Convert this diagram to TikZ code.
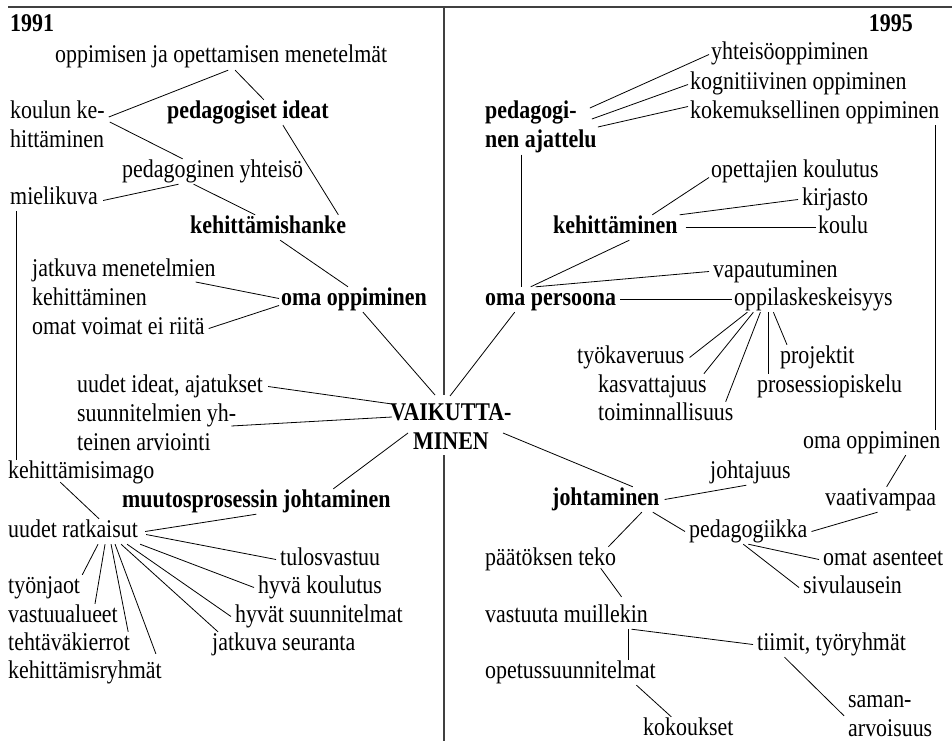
\documentclass[tikz,border=0pt]{standalone}
\usepackage{fontspec}
\setmainfont{Liberation Serif}[FakeStretch=0.86]
\usepackage{tikz}
\usetikzlibrary{positioning,calc}

\begin{document}
\begin{tikzpicture}[x=1pt, y=-1pt,
    item/.style={font=\fontsize{25.5}{28.7}\selectfont, inner sep=2pt,
                 text height=16pt, text depth=5pt, anchor=base west},
    topic/.style={item, font=\fontsize{25.5}{28.7}\selectfont\bfseries},
    twoline/.style={font=\fontsize{25.5}{28.7}\selectfont, inner sep=2pt, align=left, anchor=base west},
    topictwo/.style={twoline, font=\fontsize{25.5}{28.7}\selectfont\bfseries},
    year/.style={topic},
    link/.style={line width=0.8pt},
    rule/.style={line width=1.2pt, draw=black!75}
]
\useasboundingbox (0,0) rectangle (952,741);

% ------------------------------------------------------------
% frame
% ------------------------------------------------------------
\coordinate (tl) at (8,7);
\coordinate (tr) at (952,7);
\coordinate (dt) at (444,7);
\coordinate (db) at (444,741);

% ------------------------------------------------------------
% 1991
% ------------------------------------------------------------
\node[year] (y91) at (8,32) {1991};

\node[item] (opp) at (53,63) {oppimisen ja opettamisen menetelmät};
\node[twoline] (kk) at (8,147) {koulun ke-\\hittäminen};
\node[topic] (pi) at (165,118) {pedagogiset ideat};
\node[item] (py) at (120,177) {pedagoginen yhteisö};
\node[item] (mk) at (8,204) {mielikuva};
\node[topic] (kh) at (188,233) {kehittämishanke};

\node[twoline] (jm) at (30,305) {jatkuva menetelmien\\kehittäminen};
\node[item] (ov) at (30,334) {omat voimat ei riitä};
\node[topic] (oo) at (279,305) {oma oppiminen};

\node[item] (uia) at (75,392) {uudet ideat, ajatukset};
\node[twoline] (sy) at (75,450) {suunnitelmien yh-\\teinen arviointi};
\node[topictwo, align=center, anchor=base] (vk) at (451,449) {VAIKUTTA-\\MINEN};

\node[item] (ki) at (6,478) {kehittämisimago};
\node[topic] (mj) at (120,507) {muutosprosessin johtaminen};
\node[item] (ur) at (6,537) {uudet ratkaisut};
\node[item] (tu) at (278,565) {tulosvastuu};
\node[item] (hk) at (256,593) {hyvä koulutus};
\node[item] (tj) at (6,593) {työnjaot};
\node[item] (va) at (6,622) {vastuualueet};
\node[item] (hs) at (233,622) {hyvät suunnitelmat};
\node[item] (tk) at (6,650) {tehtäväkierrot};
\node[item] (js) at (210,650) {jatkuva seuranta};
\node[item] (kr) at (6,678) {kehittämisryhmät};

\draw[link] ([xshift=7pt]opp.south) -- ([xshift=2pt,yshift=30pt]kk.base east);
\draw[link] ([xshift=14pt]opp.south) -- ([xshift=16pt]pi.north);
\draw[link] ([xshift=3pt,yshift=25pt]kk.base east) -- ([xshift=-30pt]py.north);
\draw[link] ([xshift=3pt,yshift=-2pt]mk.east) -- ([xshift=-34pt]py.south);
\draw[link] ([xshift=-19pt]py.south) -- ([xshift=-13pt]kh.north);
\draw[link] ([xshift=35pt]pi.south) -- ([xshift=-10pt]kh.north east);
\draw[link] ([xshift=8pt]mk.south west) -- ([xshift=10pt]ki.north west);
\draw[link] ([xshift=12pt]kh.south) -- ([xshift=-6pt]oo.north);
\draw[link] ([xshift=-22pt,yshift=23pt]jm.base east) -- ([yshift=1pt]oo.west);
\draw[link] ([xshift=2pt]ov.east) -- ([yshift=-6pt]oo.west);
\draw[link] ([xshift=9pt]oo.south) -- ([xshift=-16pt,yshift=54pt]vk.base);
\draw[link] ([xshift=3pt]uia.east) -- ([xshift=-59pt,yshift=45pt]vk.base);
\draw[link] ([xshift=-7pt,yshift=24pt]sy.base east) -- ([xshift=-59pt,yshift=32pt]vk.base);
\draw[link] ([xshift=-43pt,yshift=16pt]vk.base) -- ([xshift=77pt]mj.north);

%uudet ratkaisut
\draw[link] ([xshift=-21pt,yshift=3pt]ki.south) -- ([xshift=26pt]ur.north);
\draw[link] ([xshift=5pt]ur.east) -- (mj.south);
\draw[link] ([xshift=6pt,yshift=-3pt]ur.east) -- ([xshift=-2pt]tu.west);
\draw[link] (ur.south east) -- ([xshift=-2pt]hk.west);
\draw[link] ([xshift=54pt]ur.south) -- ([xshift=-2pt]hs.west);
\draw[link] ([xshift=48pt]ur.south) -- ([xshift=8pt]js.north west);
\draw[link] ([xshift=42pt]ur.south) -- ([xshift=-8pt,yshift=6pt]kr.north east);
\draw[link] ([xshift=38pt]ur.south) -- ([xshift=-4pt]tk.north east);
\draw[link] ([xshift=32pt]ur.south) -- ([xshift=32pt]va.north);
\draw[link] ([xshift=25pt]ur.south) -- (tj.north east);

% ------------------------------------------------------------
% 1995
% ------------------------------------------------------------
\node[year, anchor=base east] (y95) at (915,32) {1995};

\node[item] (yo) at (709,60) {yhteisöoppiminen};
\node[item] (ko) at (688,90) {kognitiivinen oppiminen};
\node[item] (ke) at (688,118) {kokemuksellinen oppiminen};
\node[topictwo] (pa) at (483,147) {pedagogi-\\nen ajattelu};

\node[item] (oc) at (709,177) {opettajien koulutus};
\node[item] (kj) at (800,205) {kirjasto};
\node[topic] (ka) at (551,233) {kehittäminen};
\node[item] (kl) at (816,233) {koulu};

\node[item] (vp) at (711,277) {vapautuminen};
\node[topic] (op) at (483,305) {oma persoona};
\node[item] (ol) at (732,305) {oppilaskeskeisyys};
\node[item] (tw) at (575,363) {työkaveruus};
\node[item] (pj) at (778,363) {projektit};
\node[item] (kv) at (596,392) {kasvattajuus};
\node[item] (ps) at (755,392) {prosessiopiskelu};
\node[item] (tm) at (596,420) {toiminnallisuus};
\node[item] (om) at (801,448) {oma oppiminen};

\node[item] (jj) at (708,478) {johtajuus};
\node[topic] (jo) at (550,505) {johtaminen};
\node[item] (vv) at (823,505) {vaativampaa};
\node[item] (pg) at (687,537) {pedagogiikka};
\node[item] (pt) at (483,565) {päätöksen teko};
\node[item] (oa) at (821,565) {omat asenteet};
\node[item] (sv) at (801,593) {sivulausein};
\node[item] (vm) at (483,622) {vastuuta muillekin};
\node[item] (tt) at (755,650) {tiimit, työryhmät};
\node[item] (os) at (483,678) {opetussuunnitelmat};
\node[twoline] (sa) at (846,736) {saman-\\arvoisuus};
\node[item] (kok) at (641,735) {kokoukset};

\draw[link] ([xshift=-9pt,yshift=39pt]pa.base east) -- (yo.west);
\draw[link] ([xshift=-7pt,yshift=28pt]pa.base east) -- (ko.west);
\draw[link] ([xshift=-1pt,yshift=20pt]pa.base east) -- ([yshift=6pt]ke.west);
\draw[link] ([xshift=-20pt]pa.south) -- ([xshift=-20pt]pa.south |- op.north);
\draw[link] ([xshift=-6pt]ke.south east) -- ([xshift=-6pt]ke.south east |- om.north);
\draw[link] ([yshift=-6pt]oc.west) -- ([xshift=37pt]ka.north);
\draw[link] ([xshift=-2pt]kj.west) -- (ka.north east);
\draw[link] ([xshift=6pt]ka.east) -- (kl.west);
\draw[link] ([xshift=14pt]ka.south) -- ([xshift=-20pt]op.north);
\draw[link] ([xshift=-15pt]op.north) -- ([xshift=-2pt]vp.west);
\draw[link] ([xshift=2pt]op.east) -- (ol.west);
\draw[link] ([xshift=-36pt]op.south) -- ([xshift=-1pt,yshift=53pt]vk.base);

%oppilaskeskeisyys
\draw[link] ([xshift=-66pt]ol.south) -- ([xshift=3pt]tw.east);
\draw[link] ([xshift=-60pt]ol.south) -- ([xshift=-5pt]kv.north east);
\draw[link] ([xshift=-53pt]ol.south) -- ([xshift=-10pt]tm.north east);
\draw[link] ([xshift=-45pt]ol.south) -- ([xshift=-45pt]ol.south |- ps.north);
\draw[link] ([xshift=-40pt]ol.south) -- ([xshift=9pt]pj.north west);

%johtaminen
\draw[link] ([xshift=34pt]om.south) -- ([xshift=6pt]vv.north);
\draw[link] ([xshift=52pt,yshift=16pt]vk.base) -- ([xshift=27pt]jo.north);
\draw[link] ([xshift=-4pt]jj.south) -- ([xshift=3pt]jo.east);
\draw[link] ([xshift=47pt]jo.south) -- ([xshift=-2pt]pg.west);
\draw[link] ([xshift=36pt]jo.south) -- ([xshift=-10pt]pt.north east);
\draw[link] ([xshift=2pt]pg.east) -- ([xshift=-3pt]vv.south);
\draw[link] (pg.south) -- ([xshift=-2pt]oa.west);
\draw[link] ([xshift=-5pt]pg.south) -- ([xshift=-2pt]sv.west);
\draw[link] ([xshift=50pt,yshift=4pt]pt.south) -- ([xshift=55pt,yshift=7pt]vm.north);
\draw[link] ([xshift=65pt]vm.south) -- ([xshift=-2pt]tt.west);
\draw[link] ([xshift=62pt]vm.south) -- ([xshift=62pt]vm.south |- os.north);
\draw[link] ([xshift=66pt]os.south) -- ([xshift=-17pt]kok.north);
\draw[link] ([xshift=-47pt]tt.south) -- ([xshift=-2pt]sa.west);

% frame lines
\draw[rule] (tl) -- (tr);
\draw[rule] (dt) -- ([xshift=-7pt,yshift=54pt]vk.base);
\draw[rule] ([xshift=-7pt,yshift=-6pt]vk.base) -- (db);
\end{tikzpicture}
\end{document}
